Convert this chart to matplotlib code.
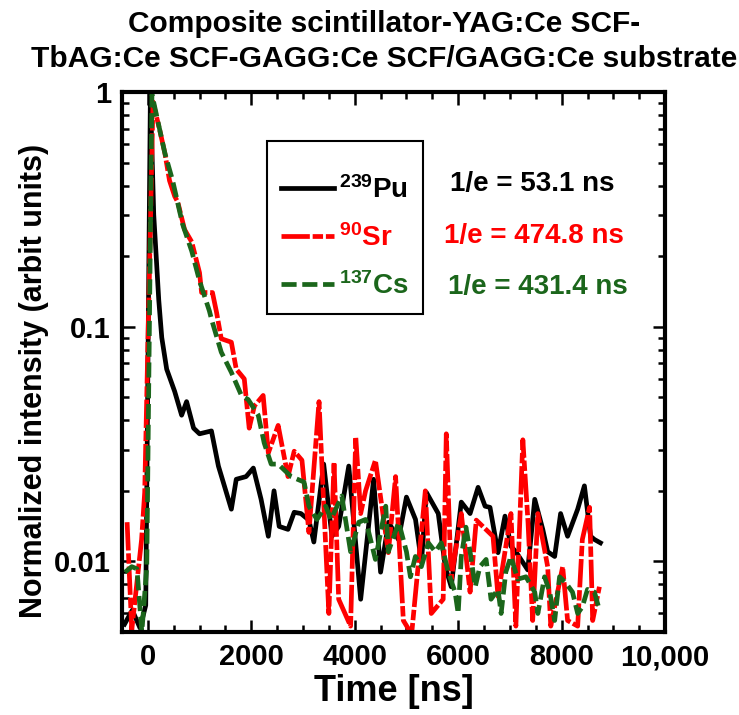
import numpy as np
import matplotlib.pyplot as plt
from matplotlib.ticker import FixedLocator, FuncFormatter, NullFormatter, MultipleLocator, LogLocator

plt.rcParams['font.family'] = ['Liberation Sans', 'DejaVu Sans']
plt.rcParams['font.weight'] = 'bold'
plt.rcParams['axes.labelweight'] = 'bold'
plt.rcParams['mathtext.fontset'] = 'custom'
plt.rcParams['mathtext.rm'] = 'Liberation Sans:bold'
plt.rcParams['mathtext.it'] = 'Liberation Sans:bold'
plt.rcParams['mathtext.bf'] = 'Liberation Sans:bold'

# ---- data ----
pu_t = [-450, -300, -150, -40, 50, 115, 212, 270, 365, 520, 654, 750, 885, 1000,
        1230, 1365, 1480, 1615, 1710, 1900, 2040, 2190, 2330, 2440, 2540, 2710,
        2830, 2960, 3115, 3210, 3400, 3560, 3690, 3885, 4115, 4365, 4500, 4655,
        4845, 5000, 5175, 5290, 5385, 5615, 5750, 5865, 6060, 6230, 6385, 6520,
        6615, 6770, 6905, 7020, 7115, 7345, 7480, 7635, 7730, 7865, 7980, 8115,
        8310, 8440, 8560, 8635, 8750]
pu_v = [0.0054, 0.0062, 0.0052, 0.0065, 0.97, 0.30, 0.13, 0.09, 0.066, 0.053,
        0.042, 0.048, 0.037, 0.035, 0.036, 0.0255, 0.021, 0.0167, 0.0224, 0.023,
        0.025, 0.0184, 0.0128, 0.020, 0.0141, 0.0137, 0.0162, 0.016, 0.015,
        0.0121, 0.026, 0.0128, 0.0141, 0.0255, 0.0069, 0.0224, 0.0090, 0.0147,
        0.0124, 0.0188, 0.0151, 0.0099, 0.0197, 0.016, 0.0095, 0.0078, 0.0179,
        0.016, 0.0207, 0.0172, 0.017, 0.0109, 0.0156, 0.0116, 0.011, 0.0092,
        0.0184, 0.0137, 0.011, 0.0105, 0.016, 0.0128, 0.0167, 0.021, 0.0128,
        0.0124, 0.012]

sr_t = [-400, -310, -120, -60, 20, 100, 230, 330, 420, 520, 580, 710, 850, 1000,
        1040, 1250, 1330, 1420, 1615, 1710, 1865, 1960, 2060, 2230, 2330, 2520,
        2710, 2830, 2980, 3115, 3310, 3365, 3500, 3600, 3690, 3920, 4020, 4115,
        4210, 4400, 4650, 4790, 4940, 5100, 5365, 5480, 5710, 5770, 5865, 6060,
        6230, 6350, 6673, 6770, 7020, 7115, 7250, 7350, 7440, 7540, 7730, 7790,
        8020, 8115, 8310, 8400, 8540, 8600, 8730]
sr_v = [0.0147, 0.0051, 0.0124, 0.0197, 0.13, 0.91, 0.69, 0.55, 0.42, 0.36,
        0.34, 0.26, 0.23, 0.17, 0.14, 0.14, 0.115, 0.089, 0.086, 0.066, 0.060,
        0.037, 0.046, 0.051, 0.029, 0.038, 0.023, 0.0295, 0.027, 0.0133, 0.048,
        0.026, 0.0060, 0.0265, 0.0069, 0.0053, 0.034, 0.016, 0.020, 0.027,
        0.0109, 0.023, 0.0056, 0.0049, 0.020, 0.006, 0.0069, 0.035, 0.0084,
        0.016, 0.0074, 0.015, 0.0128, 0.0071, 0.016, 0.0053, 0.033, 0.0147,
        0.0056, 0.016, 0.0095, 0.0053, 0.0095, 0.0056, 0.0053, 0.0124, 0.017,
        0.0056, 0.0078]

cs_t = [-440, -310, -210, -115, -20, 80, 190, 330, 480, 670, 850, 1000, 1190,
        1230, 1420, 1615, 1810, 1940, 2135, 2250, 2385, 2520, 2770, 3020, 3115,
        3270, 3440, 3540, 3750, 3920, 4080, 4210, 4400, 4600, 4650, 4850, 5000,
        5077, 5173, 5288, 5423, 5558, 5673, 5808, 5940, 6000, 6060, 6150, 6230,
        6330, 6420, 6540, 6635, 6770, 6830, 6920, 7020, 7150, 7310, 7480, 7540,
        7670, 7770, 7865, 7960, 8080, 8210, 8310, 8400, 8500, 8635, 8730]
cs_v = [0.009, 0.0095, 0.0093, 0.005, 0.0095, 0.98, 0.76, 0.55, 0.42, 0.275,
        0.21, 0.157, 0.117, 0.108, 0.078, 0.064, 0.051, 0.049, 0.042, 0.032,
        0.026, 0.026, 0.023, 0.0218, 0.0172, 0.0151, 0.0172, 0.0151, 0.019,
        0.011, 0.0147, 0.0151, 0.0102, 0.0172, 0.011, 0.0147, 0.011, 0.0086,
        0.0105, 0.0095, 0.012, 0.011, 0.012, 0.009, 0.0074, 0.006, 0.0105,
        0.014, 0.011, 0.0078, 0.0095, 0.0102, 0.0069, 0.0076, 0.006, 0.009,
        0.0105, 0.0084, 0.0086, 0.0074, 0.006, 0.0086, 0.0074, 0.0056, 0.0086,
        0.0081, 0.0074, 0.006, 0.0064, 0.0076, 0.0074, 0.0062]

labels = [r'$^{239}$Pu', r'$^{90}$Sr', r'$^{137}$Cs']
decay_text = ['1/e = 53.1 ns', '1/e = 474.8 ns', '1/e = 431.4 ns']

RED = '#ff0000'
GREEN = '#1b661b'

fig = plt.figure(figsize=(7.39, 7.15), dpi=100)
ax = fig.add_axes([0.165, 0.116, 0.735, 0.755])

ax.plot(pu_t, pu_v, color='black', lw=3.4, label=labels[0])
ax.plot(sr_t, sr_v, color=RED, lw=3.4, ls=(0, (6, 0.6, 2.2, 0.6)), label=labels[1])
ax.plot(cs_t, cs_v, color=GREEN, lw=3.4, ls=(0, (3.2, 1.2)), label=labels[2])

ax.set_yscale('log')
ax.set_xlim(-500, 10000)
ax.set_ylim(0.005, 1)

ax.xaxis.set_major_locator(FixedLocator([0, 2000, 4000, 6000, 8000, 10000]))
ax.xaxis.set_minor_locator(MultipleLocator(500))
ax.xaxis.set_major_formatter(FuncFormatter(
    lambda x, p: f'{int(x):,}' if x >= 10000 else f'{int(x)}'))
ax.yaxis.set_major_locator(FixedLocator([0.01, 0.1, 1]))
ax.yaxis.set_major_formatter(FuncFormatter(lambda y, p: f'{y:g}'))
ax.yaxis.set_minor_locator(LogLocator(base=10, subs=np.arange(2, 10)))
ax.yaxis.set_minor_formatter(NullFormatter())

ax.tick_params(which='both', direction='in', top=True, right=True, width=1.8)
ax.tick_params(which='major', length=9, labelsize=21, pad=8)
ax.tick_params(which='minor', length=5)
for sp in ax.spines.values():
    sp.set_linewidth(3)

ax.set_xlabel('Time [ns]', fontsize=26, labelpad=2)
ax.set_ylabel('Normalized intensity (arbit units)', fontsize=22)
ax.yaxis.set_label_coords(-0.135, 0.465)

# blank tiny title adds the extra top space seen in the reference box
leg = ax.legend(loc='upper left', bbox_to_anchor=(0.267, 0.909), borderaxespad=0,
                fontsize=20, frameon=True, fancybox=False, edgecolor='black',
                framealpha=1, handlelength=1.9, handletextpad=0.2,
                labelspacing=0.72, borderpad=0.5, labelcolor='linecolor',
                title=' ', title_fontsize=1)
leg.get_frame().set_linewidth(1.5)

for txt, col, xx, yy in zip(decay_text, ['black', RED, GREEN],
                            [0.604, 0.593, 0.600], [0.830, 0.733, 0.639]):
    ax.text(xx, yy, txt, color=col, fontsize=20, transform=ax.transAxes,
            ha='left', va='center')

fig.text(0.52, 0.986, 'Composite scintillator-YAG:Ce SCF-\nTbAG:Ce SCF-GAGG:Ce SCF/GAGG:Ce substrate',
         ha='center', va='top', fontsize=21.5, linespacing=1.3)

fig.savefig('out.png', dpi=100)
